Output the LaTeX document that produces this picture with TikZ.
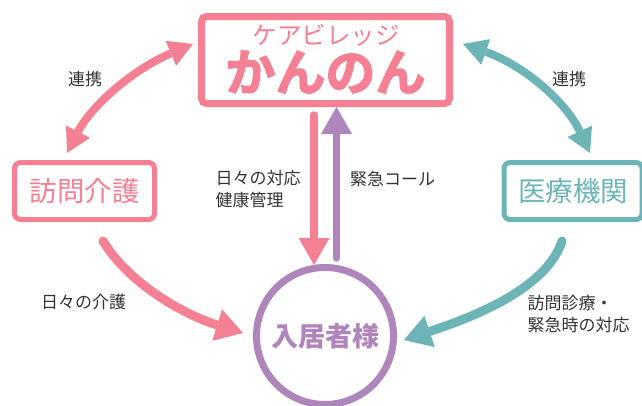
\documentclass[tikz,border=0pt]{standalone}
\usepackage{fontspec}
\setmainfont{Noto Sans CJK JP}
\newfontfamily\jpbold[FakeBold=2.6]{Noto Sans CJK JP Bold}
\usetikzlibrary{arrows.meta}
\definecolor{kpink}{HTML}{F57F93}
\definecolor{kteal}{HTML}{6CB4B6}
\definecolor{kpurple}{HTML}{AF86BB}
\definecolor{ktext}{HTML}{333333}
\tikzset{
 x=1pt,y=-1pt,
 boxbig/.style={draw=kpink,line width=7pt,rounded corners=5pt,fill=white,minimum width=248pt,minimum height=87pt,inner sep=0pt},
 boxside/.style={draw=#1,text=#1,line width=5pt,rounded corners=6pt,fill=white,minimum height=57pt,inner sep=0pt,font=\fontsize{27.5}{27.5}\selectfont},
 lbl/.style={text=ktext,font=\fontsize{17}{21.5}\selectfont,align=left,inner sep=0pt},
 link/.style={draw=#1,line width=8pt,{Triangle[length=24pt,width=27pt,line width=0pt]}-{Triangle[length=24pt,width=27pt,line width=0pt]}},
 care/.style={draw=#1,line width=9pt,line cap=round,-{Triangle[length=27pt,width=33pt,line width=0pt]}},
 vert/.style={draw=#1,line width=7.5pt,line cap=round,-{Triangle[length=27pt,width=31pt,line width=0pt]}},
}
\begin{document}
\begin{tikzpicture}
\useasboundingbox (0,0) rectangle (642,405);
\clip (0,0) rectangle (642,405);
\node[boxbig] (top) at (325.5,60) {};
\node[text=kpink,font=\fontsize{24.5}{24.5}\selectfont,inner sep=0pt] (sub) at (326,35) {ケアビレッジ};
\node[text=kpink,font=\jpbold\fontsize{50}{50}\selectfont,inner sep=0pt] (name) at (325.5,72) {かんのん};
\node[boxside=kpink,minimum width=140pt] (care) at (84.5,191) {訪問介護};
\node[boxside=kteal,minimum width=138pt] (med) at (573,191) {医療機関};
\node[draw=kpurple,line width=7pt,circle,fill=white,minimum size=137pt,inner sep=0pt,text=kpurple,font=\bfseries\fontsize{27}{27}\selectfont] (pat) at (325,336) {入居者様};
\coordinate (la) at (67,153);
\coordinate (lb) at (193,44);
\coordinate (ra) at (590,153);
\coordinate (rb) at (463,44);
\coordinate (pa) at (103,241);
\coordinate (pb) at (243,333);
\coordinate (ta) at (562,241);
\coordinate (tb) at (404,340);
\coordinate (va) at (314,115);
\coordinate (vb) at (314,265);
\coordinate (ua) at (336.5,258);
\coordinate (ub) at (336.5,107);
\draw[link=kpink] (la) .. controls (91.7,105.3) and (133.7,69) .. (lb);
\draw[link=kteal] (ra) .. controls (565.7,101.3) and (523.3,65) .. (rb);
\draw[care=kpink] (pa) .. controls (130,285) and (185,315) .. (pb);
\draw[care=kteal] (ta) .. controls (546,290) and (470,318) .. (tb);
\draw[vert=kpink] (va) -- (vb);
\draw[vert=kpurple] (ua) -- (ub);
\node[lbl,anchor=center] (l1) at (85,79) {連携};
\node[lbl,anchor=center] (l2) at (569,79) {連携};
\node[lbl,anchor=west] (l3) at (215.5,189) {日々の対応\\健康管理};
\node[lbl,anchor=west] (l4) at (350,179) {緊急コール};
\node[lbl,anchor=west] (l5) at (41,302) {日々の介護};
\node[lbl,anchor=west] (l6) at (527.5,314) {訪問診療・\\緊急時の対応};
\end{tikzpicture}
\end{document}
